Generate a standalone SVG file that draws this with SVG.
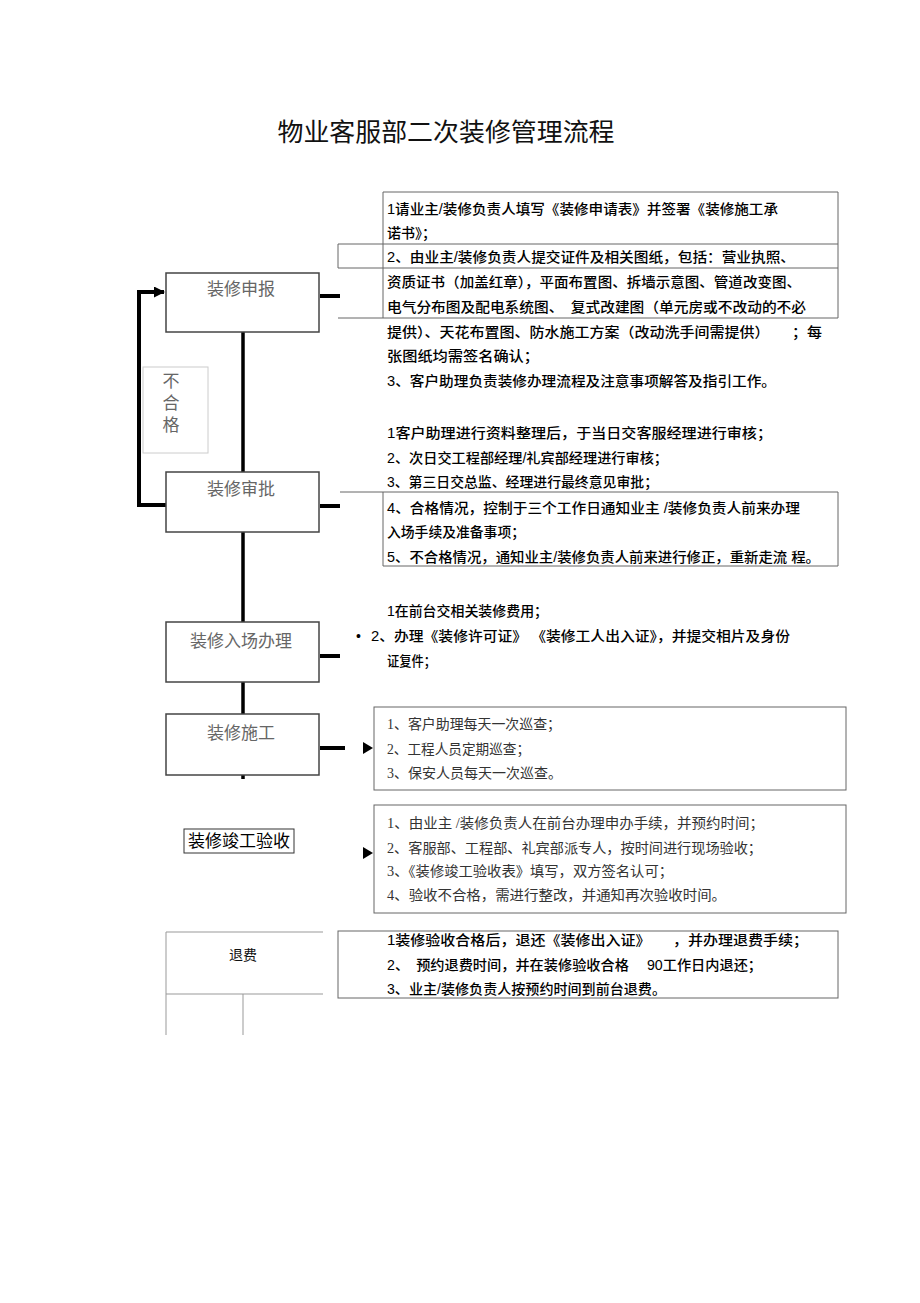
<svg xmlns="http://www.w3.org/2000/svg" width="920" height="1303" viewBox="0 0 920 1303">
<style>
.bg{fill:#fff}
.title{font-family:"Liberation Sans","Noto Sans CJK SC",sans-serif;font-size:25px;fill:#111}
.node{fill:#fff;stroke:#444;stroke-width:1.5}
.nlabel{font-family:"Liberation Serif","Noto Sans CJK SC",serif;font-size:17px;fill:#666;text-anchor:middle}
.t{font-family:"Liberation Sans","Noto Sans CJK SC",sans-serif;font-size:14px;font-weight:500;fill:#000}
.s{font-family:"Liberation Serif","Noto Sans CJK SC",serif;font-size:14px;fill:#333}
.frame{fill:none;stroke:#666;stroke-width:1}
.thin{fill:none;stroke:#999;stroke-width:1}
.main{fill:none;stroke:#000;stroke-width:3.5}
.conn{fill:none;stroke:#000;stroke-width:4}
.head{fill:#000}
</style>
<defs>
<marker id="arr" markerUnits="userSpaceOnUse" markerWidth="11" markerHeight="11" refX="10" refY="5.5" orient="auto">
<path d="M0,0 L11,5.5 L0,11 Z" fill="#000"/>
</marker>
</defs>
<rect class="bg" x="0" y="0" width="920" height="1303"/>
<text class="title" x="446" y="141" text-anchor="middle" textLength="337" lengthAdjust="spacingAndGlyphs">物业客服部二次装修管理流程</text>

<g id="connectors">
<path class="main" d="M243,332 V472"/>
<path class="main" d="M243,532 V622"/>
<path class="main" d="M243,682 V714"/>
<path class="main" d="M243,775 V779"/>
<path class="conn" d="M166,505 H139 V292 H164" marker-end="url(#arr)"/>
<path class="conn" d="M320,296 H340"/>
<path class="conn" d="M320,506 H340"/>
<path class="conn" d="M320,656 H340"/>
<path class="conn" d="M320,748 H345"/>
<polygon class="head" points="363,742 373,748 363,754"/>
<polygon class="head" points="363,847 373,853 363,859"/>
</g>

<g id="node-shenbao">
<rect class="node" x="166" y="273" width="153" height="59"/>
<text class="nlabel" x="241" y="295">装修申报</text>
</g>
<g id="node-buhege">
<rect x="143" y="367" width="65" height="86" fill="#fff" stroke="#ccc" stroke-width="1"/>
<text class="nlabel" x="171" y="387" font-size="16">不</text>
<text class="nlabel" x="171" y="409" font-size="16">合</text>
<text class="nlabel" x="171" y="431" font-size="16">格</text>
</g>
<g id="node-shenpi">
<rect class="node" x="166" y="472" width="153" height="60"/>
<text class="nlabel" x="241" y="495">装修审批</text>
</g>
<g id="node-ruchang">
<rect class="node" x="166" y="622" width="153" height="60"/>
<text class="nlabel" x="241" y="647">装修入场办理</text>
</g>
<g id="node-shigong">
<rect class="node" x="166" y="714" width="153" height="61"/>
<text class="nlabel" x="241" y="739">装修施工</text>
</g>
<g id="node-jungong">
<rect x="184" y="829" width="110" height="24" fill="#fff" stroke="#333" stroke-width="1"/>
<text x="239" y="847" text-anchor="middle" font-family="Liberation Sans,Noto Sans CJK SC,sans-serif" font-size="17" fill="#000">装修竣工验收</text>
</g>
<g id="node-tuifei">
<path class="thin" d="M166,932 H323 M166,932 V1035 M166,994 H323 M243,994 V1035"/>
<text x="243" y="960" text-anchor="middle" font-family="Liberation Sans,Noto Sans CJK SC,sans-serif" font-size="14" fill="#111">退费</text>
</g>

<g id="desc-shenbao">
<path class="frame" d="M383,192 H838 V318 M383,192 V318 M338,244 H838 M338,268 H838 M338,244 V268 M338,318 H838"/>
<text class="t" x="387" y="214" textLength="391" lengthAdjust="spacingAndGlyphs">1请业主/装修负责人填写《装修申请表》并签署《装修施工承</text>
<text class="t" x="387" y="238" textLength="49" lengthAdjust="spacingAndGlyphs">诺书》；</text>
<text class="t" x="387" y="262" textLength="408" lengthAdjust="spacingAndGlyphs">2、由业主/装修负责人提交证件及相关图纸，包括：营业执照、</text>
<text class="t" x="387" y="287" textLength="414" lengthAdjust="spacingAndGlyphs">资质证书（加盖红章），平面布置图、拆墙示意图、管道改变图、</text>
<text class="t" x="387" y="312" textLength="419" lengthAdjust="spacingAndGlyphs">电气分布图及配电系统图、　复式改建图（单元房或不改动的不必</text>
<text class="t" x="387" y="337" textLength="435" lengthAdjust="spacingAndGlyphs">提供）、天花布置图、防水施工方案（改动洗手间需提供）　　；每</text>
<text class="t" x="387" y="361" textLength="152" lengthAdjust="spacingAndGlyphs">张图纸均需签名确认；</text>
<text class="t" x="387" y="386" textLength="389" lengthAdjust="spacingAndGlyphs">3、客户助理负责装修办理流程及注意事项解答及指引工作。</text>
</g>

<g id="desc-shenpi">
<path class="frame" d="M340,492 H838 V566 H383 V492"/>
<text class="t" x="387" y="438" textLength="385" lengthAdjust="spacingAndGlyphs">1客户助理进行资料整理后，于当日交客服经理进行审核；</text>
<text class="t" x="387" y="463" textLength="281" lengthAdjust="spacingAndGlyphs">2、次日交工程部经理/礼宾部经理进行审核；</text>
<text class="t" x="387" y="487" textLength="271" lengthAdjust="spacingAndGlyphs">3、第三日交总监、经理进行最终意见审批；</text>
<text class="t" x="387" y="513" textLength="413" lengthAdjust="spacingAndGlyphs">4、合格情况，控制于三个工作日通知业主 /装修负责人前来办理</text>
<text class="t" x="387" y="537" textLength="138" lengthAdjust="spacingAndGlyphs">入场手续及准备事项；</text>
<text class="t" x="387" y="562" textLength="433" lengthAdjust="spacingAndGlyphs">5、不合格情况，通知业主/装修负责人前来进行修正，重新走流 程。</text>
</g>

<g id="desc-ruchang">
<text class="t" x="387" y="616" textLength="161" lengthAdjust="spacingAndGlyphs">1在前台交相关装修费用；</text>
<text class="t" x="356" y="641">•</text>
<text class="t" x="371" y="641" textLength="419" lengthAdjust="spacingAndGlyphs">2、办理《装修许可证》 《装修工人出入证》，并提交相片及身份</text>
<text class="t" x="387" y="666" textLength="49" lengthAdjust="spacingAndGlyphs">证复件；</text>
</g>

<g id="desc-shigong">
<rect class="frame" x="374" y="707" width="472" height="83"/>
<text class="s" x="387" y="729" textLength="174" lengthAdjust="spacingAndGlyphs">1、客户助理每天一次巡查；</text>
<text class="s" x="387" y="754" textLength="143" lengthAdjust="spacingAndGlyphs">2、工程人员定期巡查；</text>
<text class="s" x="387" y="778" textLength="175" lengthAdjust="spacingAndGlyphs">3、保安人员每天一次巡查。</text>
</g>

<g id="desc-jungong">
<rect class="frame" x="374" y="805" width="472" height="108"/>
<text class="s" x="387" y="828" textLength="377" lengthAdjust="spacingAndGlyphs">1、由业主 /装修负责人在前台办理申办手续，并预约时间；</text>
<text class="s" x="387" y="853" textLength="375" lengthAdjust="spacingAndGlyphs">2、客服部、工程部、礼宾部派专人，按时间进行现场验收；</text>
<text class="s" x="387" y="876" textLength="286" lengthAdjust="spacingAndGlyphs">3、《装修竣工验收表》填写，双方签名认可；</text>
<text class="s" x="387" y="900" textLength="339" lengthAdjust="spacingAndGlyphs">4、验收不合格，需进行整改，并通知再次验收时间。</text>
</g>

<g id="desc-tuifei">
<rect class="frame" x="338" y="931" width="500" height="67"/>
<text class="t" x="387" y="945" textLength="421" lengthAdjust="spacingAndGlyphs">1装修验收合格后，退还《装修出入证》　　，并办理退费手续；</text>
<text class="t" x="387" y="970" textLength="375" lengthAdjust="spacingAndGlyphs">2、　预约退费时间，并在装修验收合格　 90工作日内退还；</text>
<text class="t" x="387" y="994" textLength="279" lengthAdjust="spacingAndGlyphs">3、业主/装修负责人按预约时间到前台退费。</text>
</g>
</svg>
